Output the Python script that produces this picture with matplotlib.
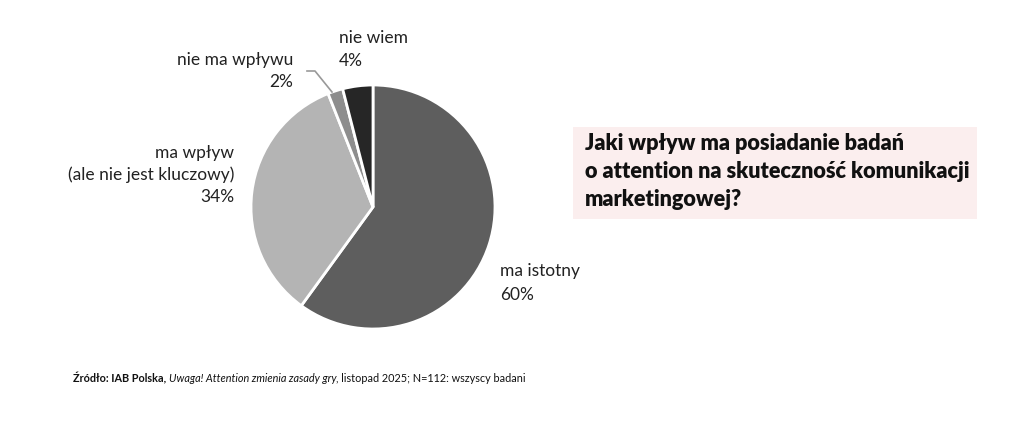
import matplotlib
matplotlib.use("Agg")
import matplotlib.pyplot as plt
from matplotlib.patches import Rectangle

plt.rcParams['font.family'] = ['Lato', 'DejaVu Sans']

# data
categories = ["ma istotny", "ma wpływ\n(ale nie jest kluczowy)", "nie ma wpływu", "nie wiem"]
values = [60, 34, 2, 4]
colors = ["#5e5e5e", "#b4b4b4", "#8d8d8d", "#262626"]
title_text = "Jaki wpływ ma posiadanie badań\no attention na skuteczność komunikacji\nmarketingowej?"

W, H = 1024, 421
fig = plt.figure(figsize=(W/100, H/100), dpi=100)

# pie axes: data units == pixels, centred on the pie
cx, cy, half = 373, 207, 140
ax = fig.add_axes([(cx-half)/W, (H-cy-half)/H, 2*half/W, 2*half/H])

ax.pie(values, colors=colors, startangle=90, counterclock=False, radius=122,
       wedgeprops=dict(edgecolor='white', linewidth=2))
ax.set_xlim(-half, half)
ax.set_ylim(-half, half)
ax.set_aspect('equal')
ax.axis('off')

txt = dict(fontsize=12.5, color='#222222')
def px(x, y):
    return x - cx, cy - y

# labels
ax.text(*px(339, 38), "nie wiem", ha='left', va='center', **txt)
ax.text(*px(339, 61), f"{values[3]}%", ha='left', va='center', **txt)
ax.text(*px(293, 60), "nie ma wpływu", ha='right', va='center', **txt)
ax.text(*px(293, 82), f"{values[2]}%", ha='right', va='center', **txt)
ax.plot(*zip(px(307, 71), px(315, 71), px(332, 92)), color='#999999', lw=1.2)
for i, line in enumerate(categories[1].split("\n") + [f"{values[1]}%"]):
    ax.text(*px(234, 153 + 22*i), line, ha='right', va='center', **txt)
ax.text(*px(500, 271), categories[0], ha='left', va='center', **txt)
ax.text(*px(500, 295), f"{values[0]}%", ha='left', va='center', **txt)

# question box
fig.patches.append(Rectangle((573/W, (H-219)/H), (977-573)/W, (219-127)/H,
                             transform=fig.transFigure, facecolor='#fbeeee',
                             edgecolor='none', zorder=0))
for i, line in enumerate(title_text.split("\n")):
    fig.text(585/W, (H-143-28*i)/H, line, ha='left', va='center',
             fontsize=15.6, fontweight='heavy', color='#111111')

# source line, built from pieces
fig.canvas.draw()
r = fig.canvas.get_renderer()
pieces = [("Źródło: IAB Polska, ", dict(fontweight='bold')),
          ("Uwaga! Attention zmienia zasady gry", dict(fontstyle='italic')),
          (", listopad 2025; N=112: wszyscy badani", dict())]
x = 73
for s, kw in pieces:
    t = fig.text(x/W, (H-382)/H, s, ha='left', va='baseline', fontsize=7.8,
                 color='#111111', **kw)
    x += t.get_window_extent(renderer=r).width

fig.savefig("out.png", dpi=100)
